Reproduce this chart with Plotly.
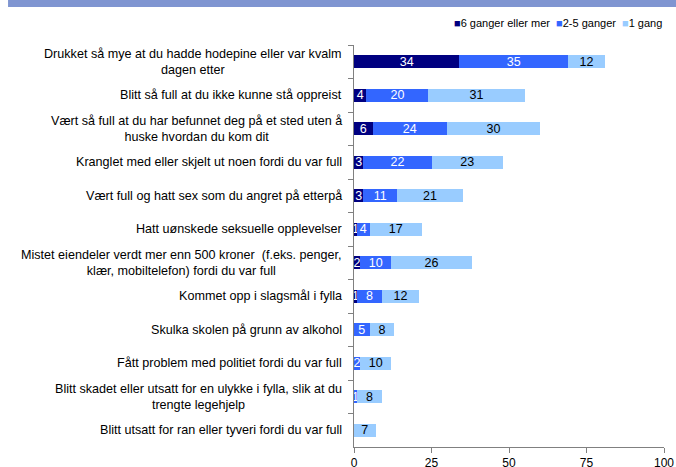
import plotly.graph_objects as go

categories = [
    "Drukket så mye at du hadde hodepine eller var kvalm<br>dagen etter",
    "Blitt så full at du ikke kunne stå oppreist",
    "Vært så full at du har befunnet deg på et sted uten å<br>huske hvordan du kom dit",
    "Kranglet med eller skjelt ut noen fordi du var full",
    "Vært full og hatt sex som du angret på etterpå",
    "Hatt uønskede seksuelle opplevelser",
    "Mistet eiendeler verdt mer enn 500 kroner  (f.eks. penger,<br>klær, mobiltelefon) fordi du var full",
    "Kommet opp i slagsmål i fylla",
    "Skulka skolen på grunn av alkohol",
    "Fått problem med politiet fordi du var full",
    "Blitt skadet eller utsatt for en ulykke i fylla, slik at du<br>trengte legehjelp",
    "Blitt utsatt for ran eller tyveri fordi du var full",
]
series_names = ["6 ganger eller mer", "2-5 ganger", "1 gang"]
six_plus = [34, 4, 6, 3, 3, 1, 2, 1, 0, 0, 0, 0]
two_five = [35, 20, 24, 22, 11, 4, 10, 8, 5, 2, 1, 0]
once = [12, 31, 30, 23, 21, 17, 26, 12, 8, 10, 8, 7]
x_ticks = [0, 25, 50, 75, 100]

colors = ["#000080", "#3366ff", "#99ccff"]
text_colors = ["white", "white", "black"]
FONT = "Liberation Sans"

ids = list(range(len(categories)))
fig = go.Figure()
for name, vals, col, tcol in zip(series_names, [six_plus, two_five, once], colors, text_colors):
    fig.add_trace(go.Bar(
        y=ids, x=vals, orientation="h", name=name,
        marker=dict(color=col, line=dict(width=0)),
        text=[str(v) if v > 0 else "" for v in vals],
        textposition="inside", insidetextanchor="middle", textangle=0,
        textfont=dict(color=tcol, size=12.5, family=FONT),
        constraintext="none",
        showlegend=False,
    ))

for i, c in enumerate(categories):
    fig.add_annotation(x=0, xref="paper", y=i, yref="y", text=c, showarrow=False,
                       xanchor="right", xshift=-10, align="center",
                       font=dict(size=12.6, family=FONT, color="black"))

legend_text = (f"<span style='color:{colors[0]}'>■</span>{series_names[0]}  "
               f"<span style='color:{colors[1]}'>■</span>{series_names[1]}  "
               f"<span style='color:{colors[2]}'>■</span>{series_names[2]}")
fig.add_annotation(x=0.316, xref="paper", y=1.0547, yref="paper", text=legend_text,
                   showarrow=False, xanchor="left", yanchor="middle",
                   font=dict(size=11, family=FONT, color="black"))

fig.add_shape(type="rect", xref="paper", yref="paper", x0=-1.116, x1=1.05, y0=1.0945, y1=1.13,
              fillcolor="#7f95d1", line=dict(width=0), layer="above")

fig.update_layout(
    template="none",
    barmode="stack", bargap=0.6,
    width=676, height=467,
    margin=dict(l=354, r=12, t=45, b=20, autoexpand=False),
    paper_bgcolor="white", plot_bgcolor="white",
    uniformtext=dict(mode="show", minsize=12),
    font=dict(family=FONT, size=12, color="black"),
)
fig.update_xaxes(range=[0, 100], tickvals=x_ticks, ticks="outside", ticklen=5,
                 showline=True, linecolor="#808080", linewidth=1, tickcolor="#808080",
                 showgrid=False, zeroline=False, automargin=False,
                 tickfont=dict(size=12, family=FONT))
fig.update_yaxes(range=[len(categories) - 0.5, -0.5], tickmode="array",
                 tickvals=[i + 0.5 for i in ids[:-1]] + [-0.5], ticktext=[""] * len(categories),
                 ticks="outside", ticklen=5, tickcolor="#808080", automargin=False,
                 showline=True, linecolor="#808080", linewidth=1, showgrid=False, zeroline=False)

fig.write_html("out.html", config={"displayModeBar": False},
               post_script="document.body.style.margin='0';")
